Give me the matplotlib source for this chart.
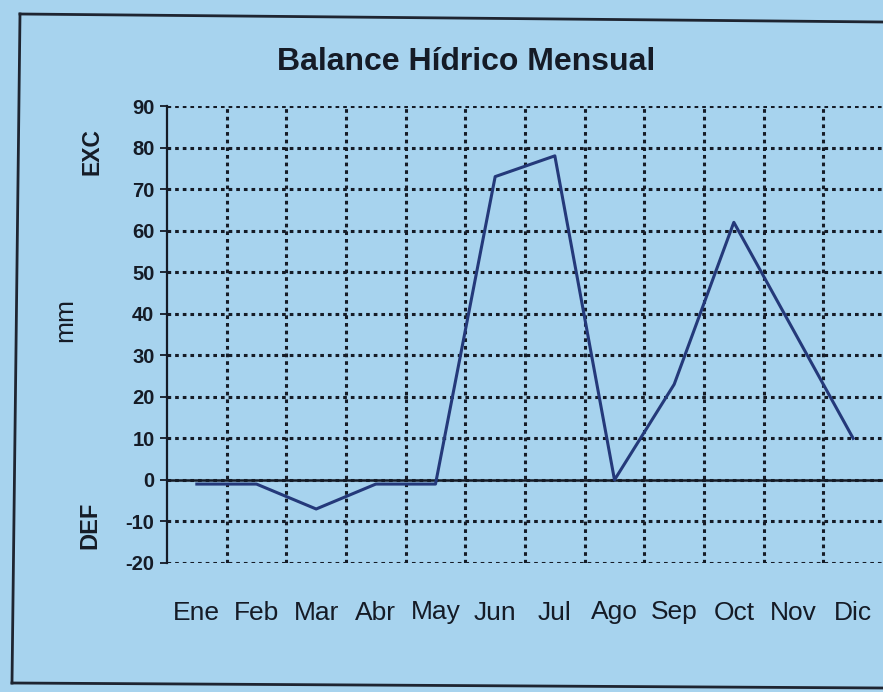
"""Balance hidrico mensual: excedente / deficit por mes."""

import matplotlib

matplotlib.use("Agg")
import matplotlib.pyplot as plt
from matplotlib.lines import Line2D
import numpy as np

months = ["Ene", "Feb", "Mar", "Abr", "May", "Jun",
          "Jul", "Ago", "Sep", "Oct", "Nov", "Dic"]
balance_mm = [-1, -1, -7, -1, -1, 73, 78, 0, 23, 62, 36, 10]
y_ticks = [-20, -10, 0, 10, 20, 30, 40, 50, 60, 70, 80, 90]

BG = "#a7d3ee"
INK = "#151b26"
LINE = "#24397a"

W, H = 883, 692
fig = plt.figure(figsize=(W / 100, H / 100), dpi=100, facecolor=BG)


def fx(px):
    return px / W


def fy(py):
    return 1 - py / H


ax = fig.add_axes([fx(167), fy(563), fx(883) - fx(167), fy(106) - fy(563)])
ax.set_facecolor(BG)

x = np.arange(len(months))
ax.set_xlim(-0.5, len(months) - 0.5)
ax.set_ylim(-20, 90)

# grid: dotted lines, vertical ones between categories
ax.set_yticks(y_ticks)
ax.set_xticks(x)
ax.set_xticks(x[:-1] + 0.5, minor=True)
dots = dict(color=INK, linewidth=2.2, linestyle=(0, (1.2, 1.3)))
ax.yaxis.grid(True, **dots)
ax.xaxis.grid(True, which="minor", **dots)
ax.set_axisbelow(True)

ax.axhline(0, color=INK, linewidth=1.8, zorder=2)
ax.plot(x, balance_mm, color=LINE, linewidth=2.2, zorder=3)

for side in ("top", "right", "bottom"):
    ax.spines[side].set_visible(False)
ax.spines["left"].set_color(INK)
ax.spines["left"].set_linewidth(1.6)

ax.tick_params(axis="y", length=5, width=1.3, color=INK, pad=4)
ax.tick_params(axis="x", which="both", length=0, pad=27)
ax.set_yticklabels([str(v) for v in y_ticks], fontfamily="Liberation Sans",
                   fontweight="bold", fontsize=14.5, color=INK)
ax.set_xticklabels(months, fontfamily="Liberation Sans",
                   fontsize=19, color=INK)

fig.text(fx(466), fy(62), "Balance Hídrico Mensual", family="Liberation Sans",
         fontsize=23, fontweight="bold", color=INK, ha="center", va="center")
fig.text(fx(92), fy(152), "EXC", family="Liberation Sans", fontsize=16.5,
         fontweight="bold", color=INK, rotation=90, ha="center", va="center")
fig.text(fx(65), fy(320), "mm", family="Liberation Sans", fontsize=19,
         color=INK, rotation=90, ha="center", va="center")
fig.text(fx(90), fy(525), "DEF", family="Liberation Sans", fontsize=17,
         fontweight="bold", color=INK, rotation=90, ha="center", va="center")

# outer frame of the chart box
frame = dict(color="#1e2430", linewidth=2.0)
fig.add_artist(Line2D([fx(20), fx(883)], [fy(14), fy(22)], **frame))
fig.add_artist(Line2D([fx(20), fx(12)], [fy(14), fy(683)], **frame))
fig.add_artist(Line2D([fx(12), fx(883)], [fy(683), fy(688)], **frame))

fig.savefig("out.png", dpi=100, facecolor=BG)
